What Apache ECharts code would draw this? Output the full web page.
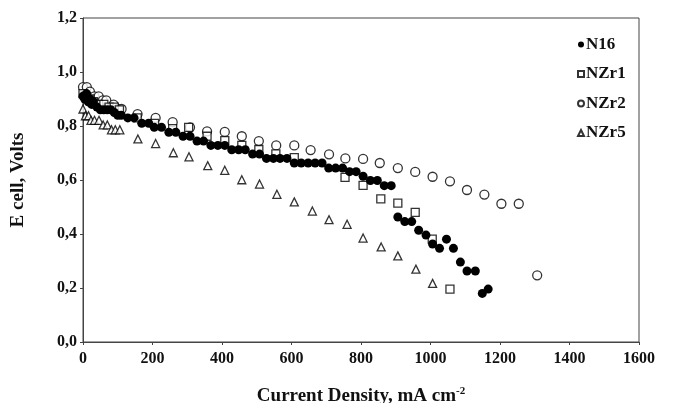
<!DOCTYPE html>
<html>
<head>
<meta charset="utf-8">
<script src="https://cdn.jsdelivr.net/npm/echarts@6/dist/echarts.min.js"></script>
<style>
  html, body { margin: 0; padding: 0; background: #fff; }
  #chart { width: 674px; height: 403px; }
</style>
</head>
<body>
<div id="chart"></div>
<script>
// current density (mA cm-2) and cell voltage (V)
const n16X = [0, 5, 10, 15, 20, 25, 30, 40, 50, 60, 70, 80, 90, 100, 110,
  129, 147, 169, 189, 205, 226, 247, 267, 288, 308, 328, 347, 368, 388, 408,
  428, 448, 467, 488, 508, 528, 548, 567, 587, 608, 628, 648, 668, 688, 707,
  727, 747, 767, 786, 806, 827, 847, 867, 887, 906, 926, 946, 966, 987, 1006,
  1026, 1046, 1066, 1086, 1105, 1129, 1149, 1166];
const n16Y = [0.91, 0.90, 0.92, 0.89, 0.90, 0.88, 0.89, 0.87, 0.86, 0.86, 0.86, 0.86, 0.85, 0.84, 0.84,
  0.83, 0.83, 0.81, 0.81, 0.795, 0.795, 0.777, 0.777, 0.762, 0.762, 0.744, 0.744, 0.728, 0.728, 0.728,
  0.712, 0.712, 0.712, 0.696, 0.696, 0.68, 0.68, 0.68, 0.68, 0.663, 0.663, 0.663, 0.663, 0.663, 0.644,
  0.644, 0.644, 0.631, 0.631, 0.614, 0.598, 0.598, 0.579, 0.579, 0.463, 0.446, 0.446, 0.414, 0.396, 0.363,
  0.347, 0.381, 0.347, 0.296, 0.263, 0.263, 0.18, 0.196];

const nzr1X = [0, 10, 20, 30, 45, 60, 75, 90, 105, 156, 206, 258, 304, 357, 408, 457, 506, 555, 608,
  754, 806, 857, 906, 956, 1005, 1056];
const nzr1Y = [0.92, 0.91, 0.90, 0.89, 0.88, 0.88, 0.87, 0.87, 0.86, 0.83, 0.81, 0.79, 0.795, 0.762, 0.746, 0.728, 0.713, 0.697, 0.683,
  0.61, 0.58, 0.53, 0.514, 0.48, 0.381, 0.196];

const nzr2X = [0, 11, 20, 33, 45, 57, 67, 88, 100, 111, 157, 209, 258, 308, 357, 408, 457, 506, 556,
  608, 655, 708, 755, 806, 854, 906, 956, 1006, 1056, 1105, 1155, 1204, 1254, 1307];
const nzr2Y = [0.944, 0.944, 0.927, 0.91, 0.91, 0.895, 0.895, 0.879, 0.863, 0.863, 0.844, 0.83, 0.814, 0.795, 0.78, 0.778, 0.762, 0.744, 0.728,
  0.728, 0.711, 0.695, 0.68, 0.678, 0.663, 0.644, 0.63, 0.612, 0.595, 0.563, 0.546, 0.512, 0.512, 0.247];

const nzr5X = [0, 7, 16, 23, 33, 46, 58, 70, 82, 93, 106, 158, 209, 260, 305, 359, 408, 457, 508,
  558, 608, 660, 708, 760, 806, 858, 906, 958, 1006];
const nzr5Y = [0.863, 0.838, 0.838, 0.821, 0.821, 0.821, 0.804, 0.804, 0.786, 0.786, 0.786, 0.752, 0.735, 0.701, 0.686, 0.653, 0.636, 0.601, 0.585,
  0.547, 0.519, 0.485, 0.453, 0.436, 0.385, 0.352, 0.319, 0.27, 0.217];

const xTicks = [0, 200, 400, 600, 800, 1000, 1200, 1400, 1600];
const yTicks = [0, 0.2, 0.4, 0.6, 0.8, 1.0, 1.2];

const pairs = (xs, ys) => xs.map((x, i) => [x, ys[i]]);
const serif = '"Liberation Serif", "DejaVu Serif", serif';
const hollow = { color: '#fff', borderColor: '#000', borderWidth: 1.3 };

const chart = echarts.init(document.getElementById('chart'));

chart.setOption({
  animation: false,
  backgroundColor: '#fff',
  grid: {
    left: 83, right: 35, top: 18, bottom: 61,
    outerBoundsMode: 'none', containLabel: false,
    show: true, borderColor: '#444', borderWidth: 1
  },
  legend: {
    orient: 'vertical',
    left: 572,
    top: 31,
    itemGap: 12.5,
    itemWidth: 6,
    itemHeight: 6,
    textStyle: { fontFamily: serif, fontWeight: 'bold', fontSize: 17, color: '#111', lineHeight: 17, padding: [0, 0, 0, -3] },
    data: ['N16', 'NZr1', 'NZr2', 'NZr5']
  },
  xAxis: {
    type: 'value',
    min: xTicks[0],
    max: xTicks[xTicks.length - 1],
    interval: 200,
    name: 'Current Density, mA cm{sup|-2}',
    nameLocation: 'middle',
    nameGap: 44,
    nameTextStyle: {
      fontFamily: serif, fontWeight: 'bold', fontSize: 19, color: '#111',
      rich: { sup: { fontFamily: serif, fontWeight: 'bold', fontSize: 11, color: '#111', verticalAlign: 'top', padding: [0, 0, 10, 0] } }
    },
    axisLine: { lineStyle: { color: '#444', width: 1 } },
    axisTick: { length: 3, lineStyle: { color: '#444' } },
    axisLabel: {
      fontFamily: serif, fontWeight: 'bold', fontSize: 16, color: '#111', margin: 9,
      formatter: v => String(v)
    },
    splitLine: { show: false }
  },
  yAxis: {
    type: 'value',
    min: yTicks[0],
    max: yTicks[yTicks.length - 1],
    interval: 0.2,
    name: 'E cell, Volts',
    nameLocation: 'middle',
    nameGap: 55,
    nameTextStyle: { fontFamily: serif, fontWeight: 'bold', fontSize: 19, color: '#111' },
    axisLine: { lineStyle: { color: '#444', width: 1 } },
    axisTick: { length: 3, lineStyle: { color: '#444' } },
    axisLabel: {
      fontFamily: serif, fontWeight: 'bold', fontSize: 16, color: '#111', margin: 6,
      formatter: v => v.toFixed(1).replace('.', ',')
    },
    splitLine: { show: false }
  },
  series: [
    { name: 'NZr5', type: 'scatter', symbol: 'triangle', symbolSize: 8, itemStyle: hollow, data: pairs(nzr5X, nzr5Y) },
    { name: 'NZr2', type: 'scatter', symbol: 'circle', symbolSize: 9, itemStyle: hollow, data: pairs(nzr2X, nzr2Y) },
    { name: 'NZr1', type: 'scatter', symbol: 'rect', symbolSize: 8, itemStyle: hollow, data: pairs(nzr1X, nzr1Y) },
    { name: 'N16', type: 'scatter', symbol: 'circle', symbolSize: 9, itemStyle: { color: '#000', opacity: 1 }, data: pairs(n16X, n16Y) }
  ]
});
</script>
</body>
</html>
